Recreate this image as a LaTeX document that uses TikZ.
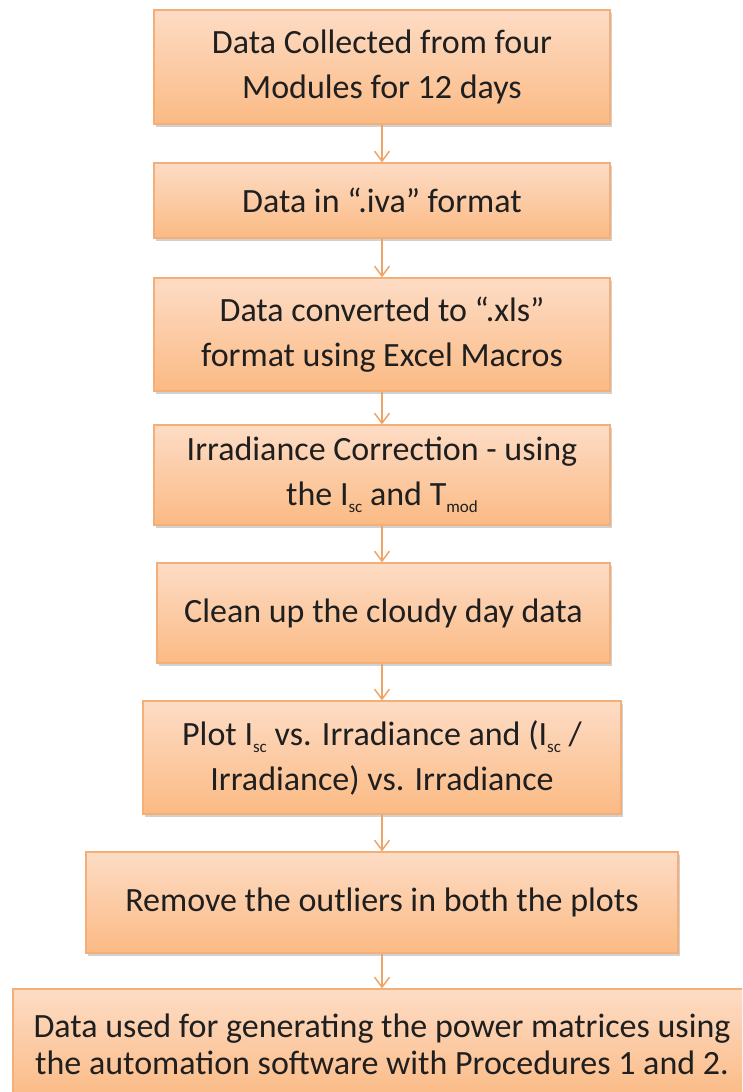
\documentclass[tikz,border=0pt]{standalone}
\usepackage{fontspec}
\setmainfont{Carlito}
\usetikzlibrary{shadows,arrows.meta}
\definecolor{boxtop}{HTML}{FDDCC5}
\definecolor{boxbot}{HTML}{FBBA84}
\definecolor{boxline}{HTML}{F4AE78}
\definecolor{arrowc}{HTML}{EFA467}
\newcommand{\lowtxt}[1]{\raisebox{-0.22em}{\fontsize{17}{17}\selectfont #1}}
\begin{document}
\begin{tikzpicture}[x=1pt,y=1pt,
  stepbox/.style={draw=boxline, line width=1.2pt, top color=boxtop, bottom color=boxbot,
    align=center, inner sep=0pt, font=\fontsize{34}{45}\selectfont, text=black!88,
    drop shadow={shadow xshift=1.5pt, shadow yshift=-2.5pt, opacity=0.3, fill=black!60}},
  flow/.style={draw=arrowc, line width=1.5pt, -{Straight Barb[length=10pt,width=15pt]}}]
\useasboundingbox (0,0) rectangle (742,-1092);
\clip (0,0) rectangle (742,-1092);
\node[stepbox, minimum width=456pt, minimum height=114pt] (b1) at (382,-67) {Data Collected from four\\Modules for 12 days};
\node[stepbox, minimum width=456pt, minimum height=75pt] (b2) at (382,-200.5) {Data in “.iva” format};
\node[stepbox, minimum width=456pt, minimum height=113pt] (b3) at (382,-334.5) {Data converted to “.xls”\\format using Excel Macros};
\node[stepbox, minimum width=456pt, minimum height=100pt] (b4) at (382,-475) {Irradiance Correction - using\\the I\lowtxt{sc} and T\lowtxt{mod}};
\node[stepbox, minimum width=453pt, minimum height=100pt] (b5) at (383.5,-613) {Clean up the cloudy day data};
\node[stepbox, minimum width=478pt, minimum height=113pt] (b6) at (382,-757.5) {Plot I\lowtxt{sc} vs. Irradiance and (I\lowtxt{sc} /\\Irradiance) vs. Irradiance};
\node[stepbox, minimum width=592pt, minimum height=101pt] (b7) at (382,-902.5) {Remove the outliers in both the plots};
\node[stepbox, minimum width=738pt, minimum height=111pt, font=\fontsize{34}{37}\selectfont] (b8) at (382,-1044.5) {Data used for generating the power matrices using\\the automation software with Procedures 1 and 2.};
\draw[flow] (b1.south) -- (b2.north);
\draw[flow] (b2.south) -- (b3.north);
\draw[flow] (b3.south) -- (b4.north);
\draw[flow] (b4.south) -- (b4.south |- b5.north);
\draw[flow] (b5.south -| b6.north) -- (b6.north);
\draw[flow] (b6.south) -- (b7.north);
\draw[flow] (b7.south) -- (b8.north);
\end{tikzpicture}
\end{document}
